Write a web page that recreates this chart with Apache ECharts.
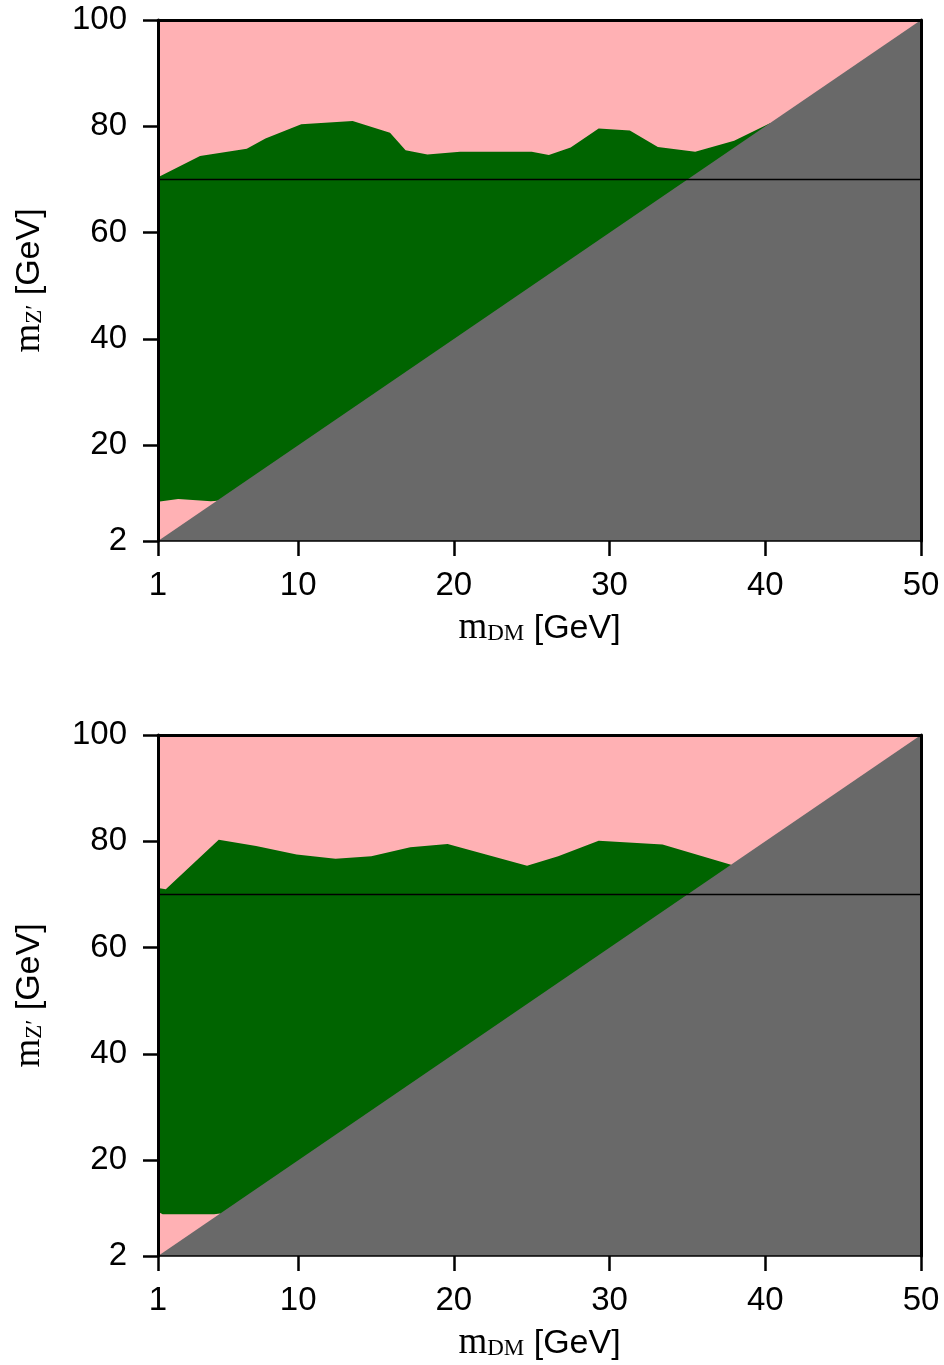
<!DOCTYPE html>
<html><head><meta charset="utf-8">
<script src="https://cdn.jsdelivr.net/npm/echarts@6/dist/echarts.min.js"></script>
<style>html,body{margin:0;padding:0;background:#fff}#c{width:944px;height:1365px}</style>
</head><body><div id="c"></div><script>
// tick labels
const xTicks = [1, 10, 20, 30, 40, 50];
const yTicks = [2, 20, 40, 60, 80, 100];
// top panel: upper edge of allowed (green) region [mDM, mZ']
const topUpper = [[1,70.4],[3.7,74.4],[6.7,75.8],[7.9,77.7],[10.2,80.4],[13.5,81.0],[15.9,78.8],[16.9,75.5],[18.3,74.7],[20.4,75.2],[25.0,75.2],[26.1,74.6],[27.5,76.0],[29.3,79.6],[31.3,79.2],[33.1,76.1],[35.5,75.2],[38.0,77.3],[40.3,80.6]];
// top panel: lower edge of green region
const topLower = [[1,9.4],[2.3,9.9],[4.4,9.5],[5.0,9.6]];
// bottom panel
const botUpper = [[1,71.2],[1.5,71.0],[4.9,80.3],[7.3,79.1],[9.9,77.5],[12.4,76.7],[14.7,77.2],[17.2,78.9],[19.6,79.5],[24.7,75.4],[26.7,77.2],[29.3,80.1],[33.4,79.4],[37.8,75.6]];
const botLower = [[1,10.3],[1.3,9.85],[4.6,9.85],[5.0,10.0]];
// kinematic boundary mZ' = 2 mDM
const kinematic = [[1,2],[50,100]];
// reference line mZ' = 70
const refLine = [[1,70],[50,70]];

const PINK = '#ffb1b4', GREEN = '#006400', GRAY = '#696969';
const grids = [
  {left:158, top:20, width:763, height:521, show:true, backgroundColor:PINK, borderWidth:0},
  {left:158, top:735, width:763, height:521, show:true, backgroundColor:PINK, borderWidth:0}
];
const rich = {
  m:{fontFamily:'Liberation Serif', fontSize:37, color:'#000'},
  s:{fontFamily:'Liberation Serif', fontSize:23, color:'#000', padding:[11,0,0,0]},
  g:{fontFamily:'Liberation Sans', fontSize:34, color:'#000'}
};
function xAx(gi, pos){
  const main = pos === 'bottom';
  return {
    type:'value', gridIndex:gi, position:pos, min:1, max:50, z:10,
    axisLine:{show:true, lineStyle:{color:'#000', width: main?1.5:3}},
    axisTick:{show:main, length:15, lineStyle:{color:'#000', width:2.5}, customValues:xTicks},
    axisLabel:{show:main, customValues:xTicks, margin:28, fontFamily:'Liberation Sans', fontSize:33, color:'#000'},
    splitLine:{show:false},
    name: main ? '{m|m}{s|DM}{g| [GeV]}' : '',
    nameLocation:'middle', nameGap:69,
    nameTextStyle:{rich: rich}
  };
}
function yAx(gi, pos){
  const main = pos === 'left';
  return {
    type:'value', gridIndex:gi, position:pos, min:2, max:100, z:10,
    axisLine:{show:true, lineStyle:{color:'#000', width:3}},
    axisTick:{show:main, length:15, lineStyle:{color:'#000', width:2.5}, customValues:yTicks},
    axisLabel:{show:main, customValues:yTicks, margin:31, fontFamily:'Liberation Sans', fontSize:33, color:'#000'},
    splitLine:{show:false},
    name: main ? '{m|m}{s|Z′}{g| [GeV]}' : '',
    nameLocation:'middle', nameGap:110, nameRotate:90,
    nameTextStyle:{rich: rich}
  };
}
function area(gi, data, color){
  return {type:'line', xAxisIndex:gi*2, yAxisIndex:gi*2, data:data, showSymbol:false, symbol:'none',
    lineStyle:{width:0}, areaStyle:{color:color, opacity:1, origin:'start'}, silent:true};
}
function line(gi, data){
  return {type:'line', xAxisIndex:gi*2, yAxisIndex:gi*2, data:data, showSymbol:false, symbol:'none',
    lineStyle:{width:1.3, color:'#000'}, z:5, silent:true};
}
const chart = echarts.init(document.getElementById('c'), null, {renderer:'canvas'});
chart.setOption({
  animation:false,
  grid: grids,
  xAxis:[xAx(0,'bottom'), xAx(0,'top'), xAx(1,'bottom'), xAx(1,'top')],
  yAxis:[yAx(0,'left'), yAx(0,'right'), yAx(1,'left'), yAx(1,'right')],
  series:[
    area(0, topUpper, GREEN), area(0, topLower, PINK), area(0, kinematic, GRAY), line(0, refLine),
    area(1, botUpper, GREEN), area(1, botLower, PINK), area(1, kinematic, GRAY), line(1, refLine)
  ]
});
</script></body></html>
